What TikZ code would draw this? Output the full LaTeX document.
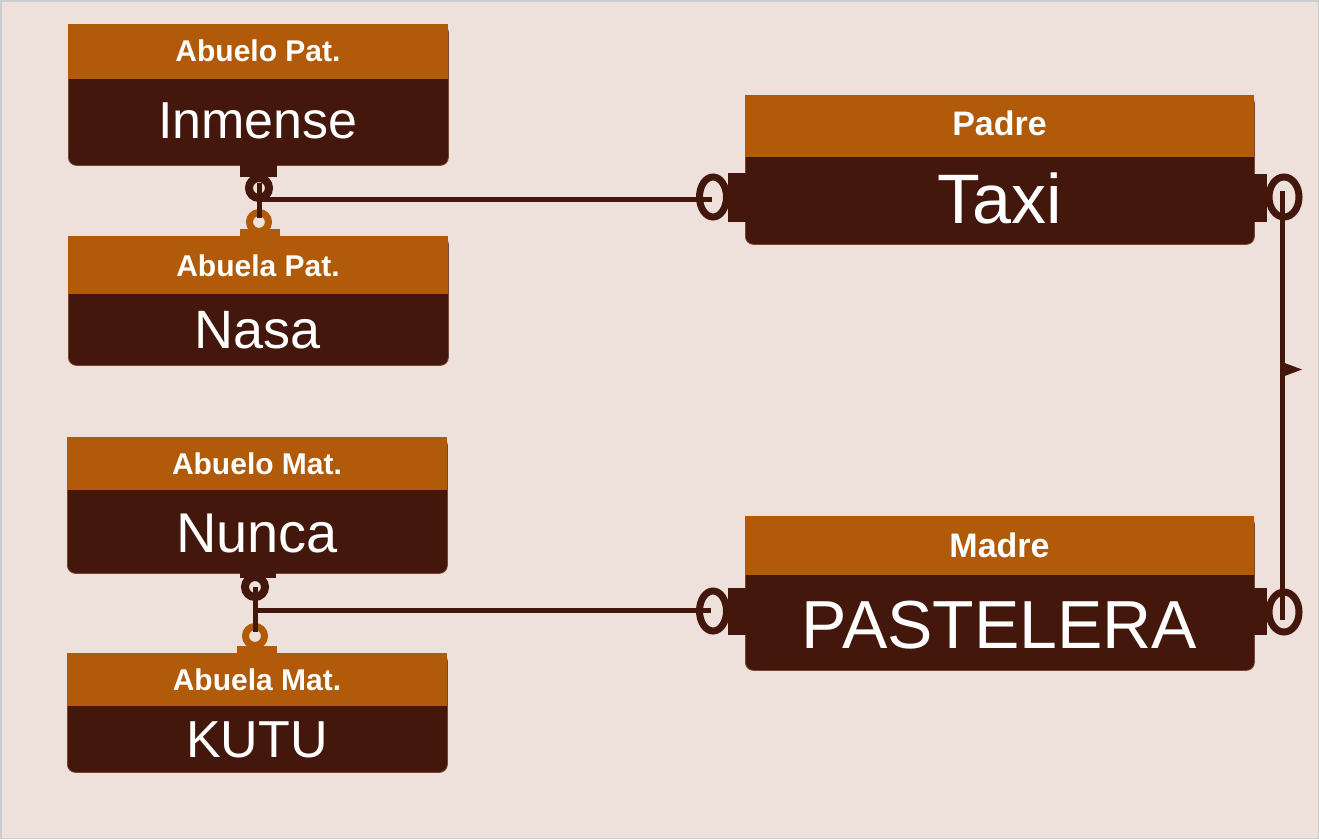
\documentclass[tikz,border=0pt]{standalone}
\usepackage{fontspec}
\setmainfont{Liberation Sans}
\definecolor{bgc}{HTML}{EEE0DA}
\definecolor{hdrc}{HTML}{B05A0A}
\definecolor{dkc}{HTML}{44170C}
\definecolor{rimc}{HTML}{7A4535}
\definecolor{framec}{HTML}{C9CFCF}
\begin{document}
\begin{tikzpicture}[x=1pt,y=-1pt,
  bodybox/.style={fill=dkc, draw=rimc, line width=0.8pt, rounded corners=8pt, inner sep=0pt, anchor=north west},
  hbar/.style={fill=hdrc, inner sep=0pt, anchor=north west},
  htxt/.style={text=white, inner sep=0pt, anchor=base, font=\bfseries\fontsize{30}{30}\selectfont},
  htxtbig/.style={text=white, inner sep=0pt, anchor=base, font=\bfseries\fontsize{34}{34}\selectfont},
  btxt/.style={text=white, inner sep=0pt, anchor=base},
  conn/.style={draw=dkc, line width=5pt},
  ringd/.style={draw=dkc, line width=8pt},
  ringo/.style={draw=hdrc, line width=7pt},
  ringe/.style={draw=dkc, line width=7pt}]
\useasboundingbox (0,0) rectangle (1319,839);
\fill[bgc] (0,0) rectangle (1319,839);
\draw[framec, line width=1.5pt] (0.75,0.75) rectangle (1318.25,838.25);

% ---- Abuelo Pat.
\node[bodybox, minimum width=380pt, minimum height=141pt] (apB) at (68,24) {};
\node[hbar, minimum width=380pt, minimum height=55pt] (apH) at (68,24) {};
\node[htxt] (apT) at (258,61) {Abuelo Pat.};
\node[btxt, font=\fontsize{52}{52}\selectfont] (inm) at (258,138) {Inmense};

% ---- Abuela Pat.
\node[bodybox, minimum width=380pt, minimum height=129pt] (bpB) at (68,236) {};
\node[hbar, minimum width=380pt, minimum height=58pt] (bpH) at (68,236) {};
\node[htxt] (bpT) at (258,276) {Abuela Pat.};
\node[btxt, font=\fontsize{54}{54}\selectfont] (nas) at (258,348) {Nasa};

% ---- Abuelo Mat.
\node[bodybox, minimum width=380pt, minimum height=136pt] (amB) at (67,437) {};
\node[hbar, minimum width=380pt, minimum height=53pt] (amH) at (67,437) {};
\node[htxt] (amT) at (257,474.5) {Abuelo Mat.};
\node[btxt, font=\fontsize{56}{56}\selectfont] (nun) at (257,552) {Nunca};

% ---- Abuela Mat.
\node[bodybox, minimum width=380pt, minimum height=119pt] (bmB) at (67,653) {};
\node[hbar, minimum width=380pt, minimum height=53pt] (bmH) at (67,653) {};
\node[htxt] (bmT) at (257,690.5) {Abuela Mat.};
\node[btxt, font=\fontsize{52}{52}\selectfont] (kut) at (257,757) {KUTU};

% ---- Padre
\node[bodybox, minimum width=509pt, minimum height=149pt] (paB) at (745,95) {};
\node[hbar, minimum width=509pt, minimum height=62pt] (paH) at (745,95) {};
\node[htxtbig] (paT) at (999.5,135) {Padre};
\node[btxt, font=\fontsize{70}{70}\selectfont] (tax) at (999.5,223) {Taxi};

% ---- Madre
\node[bodybox, minimum width=509pt, minimum height=154pt] (maB) at (745,516) {};
\node[hbar, minimum width=509pt, minimum height=59pt] (maH) at (745,516) {};
\node[htxtbig] (maT) at (999.5,557) {Madre};
\node[btxt, font=\fontsize{68}{68}\selectfont] (pas) at (999.5,648) {PASTELERA};

% ---- connector end points
\coordinate (inmEnd) at (259,183);
\coordinate (nasEnd) at (259,218);
\coordinate (jp) at (259,199);
\coordinate (taxL) at (712,199);
\coordinate (nunEnd) at (255,587);
\coordinate (kutEnd) at (255,632);
\coordinate (jm) at (255,610);
\coordinate (pasL) at (711,610);
\coordinate (taxR) at (1282,191);
\coordinate (pasR) at (1282,620);
\coordinate (midR) at (1282,369.5);

% tabs
\fill[dkc] (240,164) rectangle (277,177);
\fill[hdrc] (240,229) rectangle (280,237);
\fill[dkc] (240,572) rectangle (276,578);
\fill[hdrc] (237,646) rectangle (277,654);
\fill[dkc] (728,173) rectangle (746,222);
\fill[dkc] (1253,174) rectangle (1267,222);
\fill[dkc] (728,588) rectangle (746,635);
\fill[dkc] (1253,588) rectangle (1267,635);

% rings
\draw[ringd] (259,188) circle (10pt);
\draw[ringo] (259,222) circle (9.5pt);
\draw[ringd] (255,587) circle (10pt);
\draw[ringo] (255,636) circle (9.5pt);
\draw[ringe] (713,197) ellipse [x radius=13.5pt, y radius=20pt];
\draw[ringe] (1284,197) ellipse [x radius=15pt, y radius=20pt];
\draw[ringe] (713,611) ellipse [x radius=13.5pt, y radius=20pt];
\draw[ringe] (1284,612) ellipse [x radius=15pt, y radius=20pt];

% connector lines
\draw[conn] (inmEnd) -- (nasEnd);
\draw[conn] (jp) -- (taxL);
\draw[conn] (nunEnd) -- (kutEnd);
\draw[conn] (jm) -- (pasL);
\draw[conn] (taxR) -- (pasR);
\fill[dkc] ([yshift=7.5pt]midR) -- ++(20,7.5) -- ++(-20,7.5) -- cycle;
\end{tikzpicture}
\end{document}
